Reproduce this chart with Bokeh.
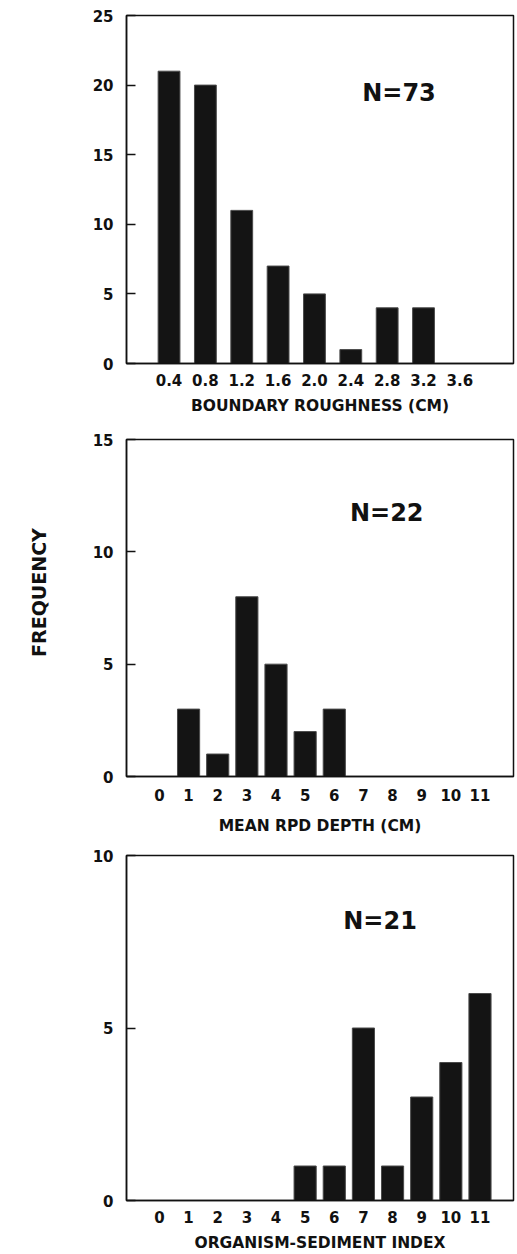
import math
from bokeh.plotting import figure
from bokeh.models import ColumnDataSource, FixedTicker, NumeralTickFormatter, Label, Range1d
from bokeh.layouts import column, row
from bokeh.embed import file_html
from bokeh.resources import INLINE

# ---- data ----
roughness = [0.4, 0.8, 1.2, 1.6, 2.0, 2.4, 2.8, 3.2, 3.6]
roughness_freq = [21, 20, 11, 7, 5, 1, 4, 4, 0]
roughness_yticks = [0, 5, 10, 15, 20, 25]

rpd_depth = [0, 1, 2, 3, 4, 5, 6, 7, 8, 9, 10, 11]
rpd_freq = [0, 3, 1, 8, 5, 2, 3, 0, 0, 0, 0, 0]
rpd_yticks = [0, 5, 10, 15]

osi = [0, 1, 2, 3, 4, 5, 6, 7, 8, 9, 10, 11]
osi_freq = [0, 0, 0, 0, 0, 1, 1, 5, 1, 3, 4, 6]
osi_yticks = [0, 5, 10]

titles = ["BOUNDARY ROUGHNESS (CM)", "MEAN RPD DEPTH (CM)", "ORGANISM-SEDIMENT INDEX"]
n_labels = ["N=73", "N=22", "N=21"]
y_title = "FREQUENCY"

FONT = "DejaVu Sans"
BAR_FILL = "#141414"
BAR_LINE = "#4a4a4a"
LEFT_W = 60


def panel(xs, ys, yticks, xr, yr, width_bar, title, ntext, nx, ny, height,
          btop, bbottom, bright, fmt=None, xstand=10, xlabstand=10):
    p = figure(width=517 - LEFT_W, height=height, output_backend="svg", toolbar_location=None,
               x_range=Range1d(*xr), y_range=Range1d(*yr),
               min_border_left=126 - LEFT_W, min_border_right=bright,
               min_border_top=btop, min_border_bottom=bbottom,
               background_fill_color="white", border_fill_color="white")
    keep = [i for i, v in enumerate(ys) if v > 0]
    src = ColumnDataSource(dict(x=[xs[i] for i in keep], top=[ys[i] for i in keep]))
    p.vbar(x="x", top="top", bottom=0, width=width_bar, source=src,
           fill_color=BAR_FILL, line_color=BAR_LINE, line_width=1)
    p.xgrid.visible = False
    p.ygrid.visible = False
    p.outline_line_color = "#111111"
    p.outline_line_width = 1.5

    xa = p.xaxis[0]
    xa.ticker = FixedTicker(ticks=xs)
    if fmt is not None:
        xa.formatter = fmt
    xa.major_tick_in = 0
    xa.major_tick_out = 0
    xa.minor_tick_line_color = None
    xa.axis_line_color = "#111111"
    xa.axis_line_width = 1.5
    xa.major_label_text_font = FONT
    xa.major_label_text_font_style = "bold"
    xa.major_label_text_font_size = "15px"
    xa.major_label_text_color = "#111111"
    xa.major_label_standoff = xstand
    xa.axis_label = title
    xa.axis_label_text_font = FONT
    xa.axis_label_text_font_style = "bold"
    xa.axis_label_text_font_size = "15.5px"
    xa.axis_label_text_color = "#111111"
    xa.axis_label_standoff = xlabstand

    ya = p.yaxis[0]
    ya.ticker = FixedTicker(ticks=yticks)
    ya.major_tick_in = 9
    ya.major_tick_out = 0
    ya.major_tick_line_width = 1.5
    ya.major_tick_line_color = "#111111"
    ya.minor_tick_line_color = None
    ya.axis_line_color = "#111111"
    ya.axis_line_width = 1.5
    ya.major_label_text_font = FONT
    ya.major_label_text_font_style = "bold"
    ya.major_label_text_font_size = "15px"
    ya.major_label_text_color = "#111111"
    ya.major_label_standoff = 13

    p.add_layout(Label(x=nx, y=ny, text=ntext, text_font=FONT, text_font_style="bold",
                       text_font_size="24px", text_color="#111111",
                       text_align="center", text_baseline="middle"))
    return p


p1 = panel(roughness, roughness_freq, roughness_yticks, (-0.068, 4.19), (0, 25), 0.24,
           titles[0], n_labels[0], 2.93, 19.4, 423, 15, 60, 1,
           fmt=NumeralTickFormatter(format="0.0"), xstand=10, xlabstand=8)
p2 = panel(rpd_depth, rpd_freq, rpd_yticks, (-1.13, 12.15), (0, 15), 0.76,
           titles[1], n_labels[1], 7.8, 11.75, 417, 16, 64, 3,
           xstand=12, xlabstand=13)
p3 = panel(osi, osi_freq, osi_yticks, (-1.13, 12.15), (0, 10), 0.76,
           titles[2], n_labels[2], 7.57, 8.09, 414, 15, 54, 4,
           xstand=10, xlabstand=8)

# narrow strip on the left that carries the shared y title
ptitle = figure(width=LEFT_W, height=1254, output_backend="svg", toolbar_location=None,
                x_range=Range1d(0, LEFT_W), y_range=Range1d(0, 1254),
                min_border=0, outline_line_color=None,
                background_fill_color="white", border_fill_color="white")
ptitle.axis.visible = False
ptitle.grid.visible = False
ptitle.add_layout(Label(x=38, y=1254 - 592, text=y_title, angle=math.pi / 2,
                        text_font=FONT, text_font_style="bold", text_font_size="19px",
                        text_color="#111111", text_align="center", text_baseline="middle"))

layout = row(ptitle, column(p1, p2, p3, spacing=0), spacing=0)
open("out.html", "w").write(file_html(layout, INLINE))
